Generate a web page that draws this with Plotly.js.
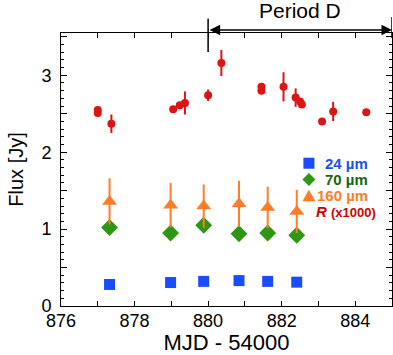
<!DOCTYPE html>
<html>
<head>
<meta charset="utf-8">
<script src="https://cdn.plot.ly/plotly-3.0.1.min.js"></script>
<style>
  html, body { margin: 0; padding: 0; background: #fff; }
  #plot { width: 393px; height: 355px; }
</style>
</head>
<body>
<div id="plot"></div>
<script>
// Spitzer bands share the same epochs
const mjdIR = [877.32, 878.98, 879.88, 880.84, 881.62, 882.41];
const flux24 = [0.28, 0.305, 0.32, 0.33, 0.32, 0.31];
const flux70 = [1.02, 0.95, 1.05, 0.94, 0.95, 0.92];
const err70 = [0.05, 0.05, 0.05, 0.05, 0.05, 0.05];
const flux160 = [1.36, 1.31, 1.30, 1.33, 1.28, 1.23];
const err160 = [0.30, 0.29, 0.28, 0.30, 0.27, 0.28];

// Optical R band (x1000)
const mjdR = [877.0, 877.0, 877.37, 879.05, 879.23, 879.37, 880.0, 880.36, 881.45, 881.45,
              882.05, 882.38, 882.5, 882.55, 883.1, 883.4, 884.3];
const fluxR = [2.55, 2.51, 2.37, 2.56, 2.61, 2.64, 2.74, 3.16, 2.85, 2.80,
               2.85, 2.71, 2.66, 2.62, 2.40, 2.53, 2.52];
const errR = [0, 0, 0.12, 0, 0, 0.15, 0.075, 0.17, 0, 0,
              0.19, 0.12, 0, 0, 0, 0.125, 0];

const yTicks = [0, 0.5, 1, 1.5, 2, 2.5, 3, 3.5];
const yLabels = ["0", "", "1", "", "2", "", "3", ""];
const xTicks = [876, 877, 878, 879, 880, 881, 882, 883, 884, 885];
const xLabels = ["876", "", "878", "", "880", "", "882", "", "884", ""];

const legendNames = ["24 µm", "70 µm", "160 µm", "<i>R</i> <span style=\"font-size:13px\">(x1000)</span>"];

const periodStart = 880, periodEnd = 885;

const blue = "rgb(25,75,255)";
const green = "rgb(45,150,20)";
const orange = "rgb(255,125,40)";
const red = "rgb(220,20,20)";
const textColors = ["rgb(30,80,235)", "rgb(25,100,15)", orange, "rgb(210,0,0)"];

const traces = [
  { x: mjdIR, y: flux24, mode: "markers", type: "scatter",
    marker: { symbol: "square", size: 11, color: blue } },
  { x: mjdIR, y: flux70, mode: "markers", type: "scatter",
    error_y: { type: "data", array: err70, color: green, thickness: 2, width: 0 },
    marker: { symbol: "diamond", size: 13, color: green } },
  { x: mjdIR, y: flux160, mode: "markers", type: "scatter",
    error_y: { type: "data", array: err160, color: orange, thickness: 2, width: 0 },
    marker: { symbol: "triangle-up", size: 13, color: orange } },
  { x: mjdR, y: fluxR, mode: "markers", type: "scatter",
    error_y: { type: "data", array: errR, color: red, thickness: 2, width: 0 },
    marker: { symbol: "circle", size: 8, color: red } }
];

// hand-made legend: keys as small shapes, labels as right-aligned text
const rowY = [0.523, 0.463, 0.404, 0.345];
const keyX = 0.749;
const keyPaths = [
  "M -5.5 -5.5 L 5.5 -5.5 L 5.5 5.5 L -5.5 5.5 Z",
  "M 0 -6.5 L 6.5 0 L 0 6.5 L -6.5 0 Z",
  "M 0 6 L 6.5 -5.5 L -6.5 -5.5 Z",
  "M -3.5 0 A 3.5 3.5 0 1 0 3.5 0 A 3.5 3.5 0 1 0 -3.5 0 Z"
];
const keyColors = [blue, green, orange, red];

const legendShapes = keyPaths.map((p, i) => ({
  type: "path", xref: "paper", yref: "paper",
  xsizemode: "pixel", ysizemode: "pixel", xanchor: keyX, yanchor: rowY[i],
  path: p, fillcolor: keyColors[i], line: { width: 0 }
}));

const legendText = legendNames.map((n, i) => ({
  x: i === 3 ? 0.959 : 0.935, y: rowY[i], xref: "paper", yref: "paper",
  xanchor: "right", yanchor: "middle", showarrow: false,
  text: "<b>" + n + "</b>",
  font: { size: 15, color: textColors[i] }
}));

const layout = {
  width: 393, height: 355,
  margin: { l: 61, r: 1, t: 33, b: 49 },
  paper_bgcolor: "#fff", plot_bgcolor: "#fff",
  font: { family: "Liberation Sans, Arial, sans-serif", size: 18, color: "#000" },
  showlegend: false,
  xaxis: {
    range: [876, 885], tickmode: "array", tickvals: xTicks, ticktext: xLabels,
    ticks: "inside", ticklen: 5, tickcolor: "#000", tickwidth: 1,
    showline: true, linecolor: "#000", linewidth: 1, mirror: "ticks",
    showgrid: false, zeroline: false, ticklabelstandoff: -2,
    title: { text: "MJD - 54000", font: { size: 22 }, standoff: 2 }
  },
  yaxis: {
    range: [0, 3.55], tickmode: "array", tickvals: yTicks, ticktext: yLabels,
    ticks: "inside", ticklen: 6, tickcolor: "#000", tickwidth: 1,
    minor: { ticks: "inside", ticklen: 3, dtick: 0.1, tick0: 0, tickcolor: "#000", showgrid: false },
    showline: true, linecolor: "#000", linewidth: 1, mirror: "ticks",
    showgrid: false, zeroline: false, ticklabelstandoff: 5,
    title: { text: "Flux [Jy]", font: { size: 20 }, standoff: 12 }
  },
  shapes: [
    { type: "line", xref: "x", yref: "paper", x0: periodStart, x1: periodStart,
      y0: 0.93, y1: 1.052, line: { color: "#000", width: 1.5 } },
    { type: "line", xref: "x", yref: "paper", x0: periodEnd, x1: periodEnd,
      y0: 0.982, y1: 1.059, line: { color: "#000", width: 1.5 } }
  ].concat(legendShapes),
  annotations: [
    { x: periodEnd, y: 1.011, xref: "x", yref: "paper",
      ax: periodStart, ay: 0, axref: "x", ayref: "pixel",
      xanchor: "center", yanchor: "middle",
      showarrow: true, arrowside: "end+start", arrowhead: 2, arrowsize: 1.4,
      arrowwidth: 1.5, arrowcolor: "#000", text: "" },
    { x: (periodStart + periodEnd) / 2, y: 1.081, xref: "x", yref: "paper",
      yanchor: "middle", showarrow: false, text: "Period D", font: { size: 21 } }
  ].concat(legendText)
};

Plotly.newPlot("plot", traces, layout, { displayModeBar: false, staticPlot: true });
</script>
</body>
</html>
